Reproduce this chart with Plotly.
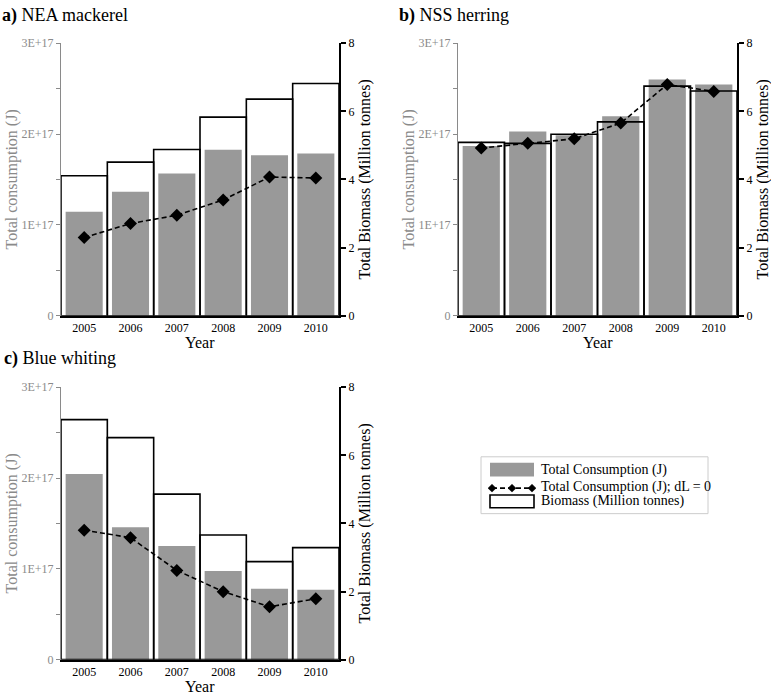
import plotly.graph_objects as go

W, H = 771, 699

years = ["2005", "2006", "2007", "2008", "2009", "2010"]

# Panel a) NEA mackerel
mack_consumption = [1.145e17, 1.365e17, 1.566e17, 1.826e17, 1.768e17, 1.786e17]
mack_consumption_dl0 = [0.861e17, 1.015e17, 1.106e17, 1.275e17, 1.527e17, 1.516e17]
mack_biomass = [4.11, 4.51, 4.88, 5.83, 6.36, 6.82]

# Panel b) NSS herring
herr_consumption = [1.869e17, 2.027e17, 1.988e17, 2.197e17, 2.600e17, 2.546e17]
herr_consumption_dl0 = [1.847e17, 1.898e17, 1.948e17, 2.121e17, 2.546e17, 2.470e17]
herr_biomass = [5.09, 5.06, 5.33, 5.69, 6.74, 6.60]

# Panel c) Blue whiting
blue_consumption = [2.045e17, 1.458e17, 1.253e17, 0.976e17, 0.781e17, 0.771e17]
blue_consumption_dl0 = [1.426e17, 1.343e17, 0.983e17, 0.749e17, 0.583e17, 0.670e17]
blue_biomass = [7.05, 6.52, 4.86, 3.66, 2.88, 3.29]

left_tickvals = [0, 0.5e17, 1e17, 1.5e17, 2e17, 2.5e17, 3e17]
left_ticktext = ["0", "", "1E+17", "", "2E+17", "", "3E+17"]
right_tickvals = [0, 2, 4, 6, 8]

FONT = "Liberation Serif"
GRAY_BAR = "#999999"
GRAY_AX = "#8a8a8a"
DASH = "5px,3px"

def px_x(p):
    return p / W

def px_y(p):
    return 1 - p / H

panels = [
    dict(title="<b>a)</b> NEA mackerel", cons=mack_consumption, dl0=mack_consumption_dl0,
         bio=mack_biomass, x0=61, x1=339, y0=37, y1=315, tx=0, ty=9),
    dict(title="<b>b)</b> NSS herring", cons=herr_consumption, dl0=herr_consumption_dl0,
         bio=herr_biomass, x0=458, x1=737, y0=37, y1=315, tx=397, ty=9),
    dict(title="<b>c)</b> Blue whiting", cons=blue_consumption, dl0=blue_consumption_dl0,
         bio=blue_biomass, x0=61, x1=339, y0=388, y1=666, tx=2, ty=359),
]

fig = go.Figure()
layout = dict(
    width=W, height=H, margin=dict(l=0, r=0, t=0, b=0),
    paper_bgcolor="white", plot_bgcolor="rgba(0,0,0,0)",
    barmode="overlay", showlegend=False,
    font=dict(family=FONT, color="black"),
)
annotations = []
shapes = []

for i, p in enumerate(panels):
    xn = "" if i == 0 else str(i + 1)
    yl = str(3 * i + 1) if i > 0 else ""
    yr = str(3 * i + 2)
    yd = str(3 * i + 3)
    xref = "x" + xn
    ylref = "y" + yl
    dom_x = [px_x(p["x0"]), px_x(p["x1"])]
    dom_y = [px_y(p["y1"]), px_y(p["y0"])]

    fig.add_trace(go.Bar(x=years, y=p["cons"], xaxis=xref, yaxis=ylref,
                         width=0.8, marker=dict(color=GRAY_BAR, line=dict(width=0)),
                         name="Total Consumption (J)"))
    fig.add_trace(go.Bar(x=years, y=p["bio"], xaxis=xref, yaxis="y" + yr,
                         width=1.0, marker=dict(color="rgba(0,0,0,0)",
                                                line=dict(color="black", width=1.6)),
                         name="Biomass (Million tonnes)"))
    fig.add_trace(go.Scatter(x=years, y=p["dl0"], xaxis=xref, yaxis="y" + yd,
                             mode="lines+markers",
                             line=dict(color="black", width=1.6, dash=DASH),
                             marker=dict(symbol="diamond", size=10, color="black"),
                             name="Total Consumption (J); dL = 0"))

    layout["xaxis" + xn] = dict(
        domain=dom_x, anchor=ylref, type="category", range=[-0.5, 5.5],
        showline=True, linecolor="black", linewidth=2, ticks="",
        tickfont=dict(size=12, family=FONT, color="black"),
        showgrid=False, zeroline=False, fixedrange=True,
    )
    layout["yaxis" + yl] = dict(
        domain=dom_y, anchor=xref, range=[0, 3e17], side="left",
        showline=True, linecolor=GRAY_AX, linewidth=1,
        ticks="outside", ticklen=4, tickcolor=GRAY_AX, tickwidth=1,
        tickvals=left_tickvals, ticktext=left_ticktext,
        tickfont=dict(size=12, family=FONT, color=GRAY_AX),
        showgrid=False, zeroline=False,
    )
    layout["yaxis" + yr] = dict(
        overlaying=ylref, anchor=xref, range=[0, 8], side="right",
        showline=True, linecolor="black", linewidth=2,
        ticks="outside", ticklen=5, tickcolor="black", tickwidth=1.5,
        tickvals=right_tickvals,
        tickfont=dict(size=12, family=FONT, color="black"),
        showgrid=False, zeroline=False,
    )
    layout["yaxis" + yd] = dict(
        overlaying=ylref, anchor=xref, range=[0, 3e17], side="left",
        visible=False, showgrid=False, zeroline=False,
    )

    annotations.append(dict(text=p["title"], x=px_x(p["tx"]), y=px_y(p["ty"]),
                            xref="paper", yref="paper", xanchor="left", yanchor="middle",
                            showarrow=False, font=dict(size=18, family=FONT, color="black")))
    cy = (p["y0"] + p["y1"]) / 2
    annotations.append(dict(text="Total consumption (J)", x=px_x(p["x0"] - 49), y=px_y(cy),
                            xref="paper", yref="paper", xanchor="center", yanchor="middle",
                            textangle=-90, showarrow=False,
                            font=dict(size=16, family=FONT, color=GRAY_AX)))
    annotations.append(dict(text="Total Biomass (Million tonnes)", x=px_x(p["x1"] + 26), y=px_y(cy),
                            xref="paper", yref="paper", xanchor="center", yanchor="middle",
                            textangle=-90, showarrow=False,
                            font=dict(size=16, family=FONT, color="black")))
    annotations.append(dict(text="Year", x=px_x((p["x0"] + p["x1"]) / 2), y=px_y(p["y1"] + 27),
                            xref="paper", yref="paper", xanchor="center", yanchor="middle",
                            showarrow=False, font=dict(size=16, family=FONT, color="black")))

# manual legend
shapes.append(dict(type="rect", xref="paper", yref="paper",
                   x0=px_x(481), x1=px_x(708), y0=px_y(517), y1=px_y(459),
                   line=dict(color="#cccccc", width=1), fillcolor="white"))
shapes.append(dict(type="rect", xref="paper", yref="paper",
                   x0=px_x(490), x1=px_x(534), y0=px_y(479), y1=px_y(465),
                   line=dict(width=0), fillcolor=GRAY_BAR))
shapes.append(dict(type="line", xref="paper", yref="paper",
                   x0=px_x(492), x1=px_x(532), y0=px_y(491), y1=px_y(491),
                   line=dict(color="black", width=1.6, dash=DASH)))
for dx in (492, 512, 532):
    d = 4
    path = "M {a},{b} L {c},{d_} L {e},{f} L {g},{h} Z".format(
        a=px_x(dx - d), b=px_y(491), c=px_x(dx), d_=px_y(491 - d),
        e=px_x(dx + d), f=px_y(491), g=px_x(dx), h=px_y(491 + d))
    shapes.append(dict(type="path", xref="paper", yref="paper", path=path,
                       fillcolor="black", line=dict(color="black", width=0.5)))
shapes.append(dict(type="rect", xref="paper", yref="paper",
                   x0=px_x(490), x1=px_x(534), y0=px_y(511), y1=px_y(498),
                   line=dict(color="black", width=1.6), fillcolor="white"))
legend_labels = ["Total Consumption (J)", "Total Consumption (J); dL = 0", "Biomass (Million tonnes)"]
for lab, yy in zip(legend_labels, (472, 490, 504.5)):
    annotations.append(dict(text=lab, x=px_x(539), y=px_y(yy), xref="paper", yref="paper",
                            xanchor="left", yanchor="middle", showarrow=False,
                            font=dict(size=14, family=FONT, color="black")))

layout["annotations"] = annotations
layout["shapes"] = shapes
fig.update_layout(**layout)

fig.write_html("out.html", config={"displayModeBar": False},
               post_script="document.body.style.margin='0px';document.body.style.overflow='hidden';")
